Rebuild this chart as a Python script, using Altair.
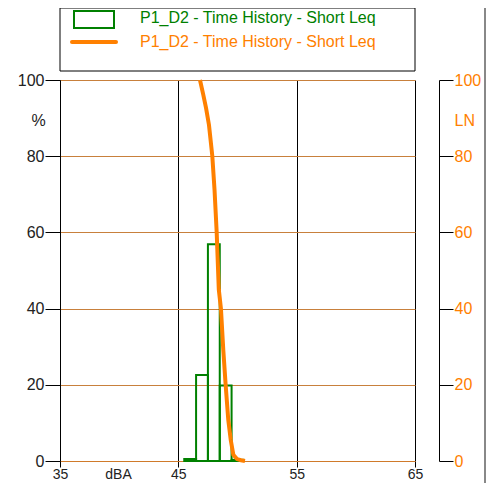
import altair as alt
import pandas as pd

# Histogram bins (dBA) and percentage of time
bin_lo = [45.5, 46.5, 47.5, 48.5, 49.5]
bin_hi = [46.5, 47.5, 48.5, 49.5, 50.5]
bin_pct = [0.5, 22.6, 56.9, 19.8, 0.3]

# Cumulative LN curve
ln_dba = [46.83, 47.11, 47.34, 47.59, 47.87, 48.06, 48.24, 48.42, 48.6, 48.8, 49.0, 49.22, 49.43, 49.65, 49.96, 50.3, 50.63]
ln_pct = [100, 96.1, 92.7, 88.2, 80.1, 71.1, 60.1, 45, 40, 29.1, 19.9, 10.8, 5.5, 1.6, 0.5, 0.2, 0]

x_ticks = [35, 45, 55, 65]
y_ticks = [0, 20, 40, 60, 80, 100]
legend_label = "P1_D2 - Time History - Short Leq"

GREEN = "#008000"
ORANGE = "#ff8000"
FONT = "Liberation Sans"
W, H = 355, 381

bars_df = pd.DataFrame({"lo": bin_lo, "hi": bin_hi, "pct": bin_pct})
ln_df = pd.DataFrame({"dba": ln_dba, "pct": ln_pct})

xscale = alt.Scale(domain=[35, 65], nice=False, zero=False)
yscale = alt.Scale(domain=[0, 100], nice=False)

x_axis = alt.Axis(values=x_ticks, title="dBA", titleX=58, titleY=6, titleAlign="center",
                  titleBaseline="top", titleFontWeight="normal", grid=True, gridColor="#000000",
                  gridWidth=1, tickSize=6, tickColor="#000000", labelPadding=0,
                  labelBaseline="top", labelFlush=False, domainColor="#d07a2a",
                  labelColor="#222222", titleColor="#222222", labelFont=FONT, titleFont=FONT,
                  labelFontSize=14, titleFontSize=14)

bars = alt.Chart(bars_df).mark_rect(fillOpacity=0, stroke=GREEN, strokeWidth=2).encode(
    x=alt.X("lo:Q", scale=xscale, axis=x_axis),
    x2="hi:Q",
    y=alt.Y("pct:Q", scale=yscale, axis=alt.Axis(
        values=y_ticks, orient="left", title="%", titleAngle=0, titleX=-22, titleY=40,
        titleAlign="center", titleBaseline="middle", titleFontWeight="normal",
        grid=True, gridColor="#c8803c", gridWidth=1, tickSize=15, tickColor="#000000",
        domainColor="#000000", labelPadding=1, labelFlush=False, labelColor="#222222",
        titleColor="#222222", labelFont=FONT, titleFont=FONT, labelFontSize=16, titleFontSize=16)),
    y2=alt.datum(0),
)

line = alt.Chart(ln_df).mark_line(stroke=ORANGE, strokeWidth=4).encode(
    x=alt.X("dba:Q", scale=xscale, axis=x_axis),
    y=alt.Y("pct:Q", scale=yscale, axis=alt.Axis(
        values=y_ticks, orient="right", offset=24, title="LN", titleAngle=0, titleX=15, titleY=40,
        titleAlign="left", titleBaseline="middle", titleFontWeight="normal", titleColor=ORANGE,
        grid=False, tickSize=14, tickColor="#000000", domainColor="#000000",
        labelPadding=1, labelFlush=False, labelColor=ORANGE,
        labelFont=FONT, titleFont=FONT, labelFontSize=16, titleFontSize=16)),
)

lab_df = pd.DataFrame({"label": [legend_label]})
box = alt.Chart(lab_df).mark_rect(fill="white", stroke="#000000", strokeWidth=1).encode(
    x=alt.value(0), x2=alt.value(W), y=alt.value(-72), y2=alt.value(-9))
sym1 = alt.Chart(lab_df).mark_rect(fillOpacity=0, stroke=GREEN, strokeWidth=2).encode(
    x=alt.value(14), x2=alt.value(54), y=alt.value(-69), y2=alt.value(-52))
sym2 = alt.Chart(lab_df).mark_rule(stroke=ORANGE, strokeWidth=4, strokeCap="round").encode(
    x=alt.value(12), x2=alt.value(56), y=alt.value(-38))
txt1 = alt.Chart(lab_df).mark_text(align="left", baseline="middle", fontSize=16, font=FONT,
                                   color=GREEN).encode(x=alt.value(80), y=alt.value(-62), text="label:N")
txt2 = alt.Chart(lab_df).mark_text(align="left", baseline="middle", fontSize=16, font=FONT,
                                   color=ORANGE).encode(x=alt.value(80), y=alt.value(-38), text="label:N")
border = alt.Chart(lab_df).mark_rule(stroke="#888888", strokeWidth=2).encode(
    x=alt.value(425), y=alt.value(-80), y2=alt.value(420))

chart = alt.layer(bars, line, box, sym1, sym2, txt1, txt2, border).resolve_scale(
    y="independent"
).properties(
    width=W, height=H,
    background="white",
    autosize=alt.AutoSizeParams(type="none"),
    padding={"left": 52, "top": 72, "right": 72, "bottom": 22},
).configure_view(stroke=None)

chart.save("out.html", embed_options={"renderer": "svg", "actions": False})
